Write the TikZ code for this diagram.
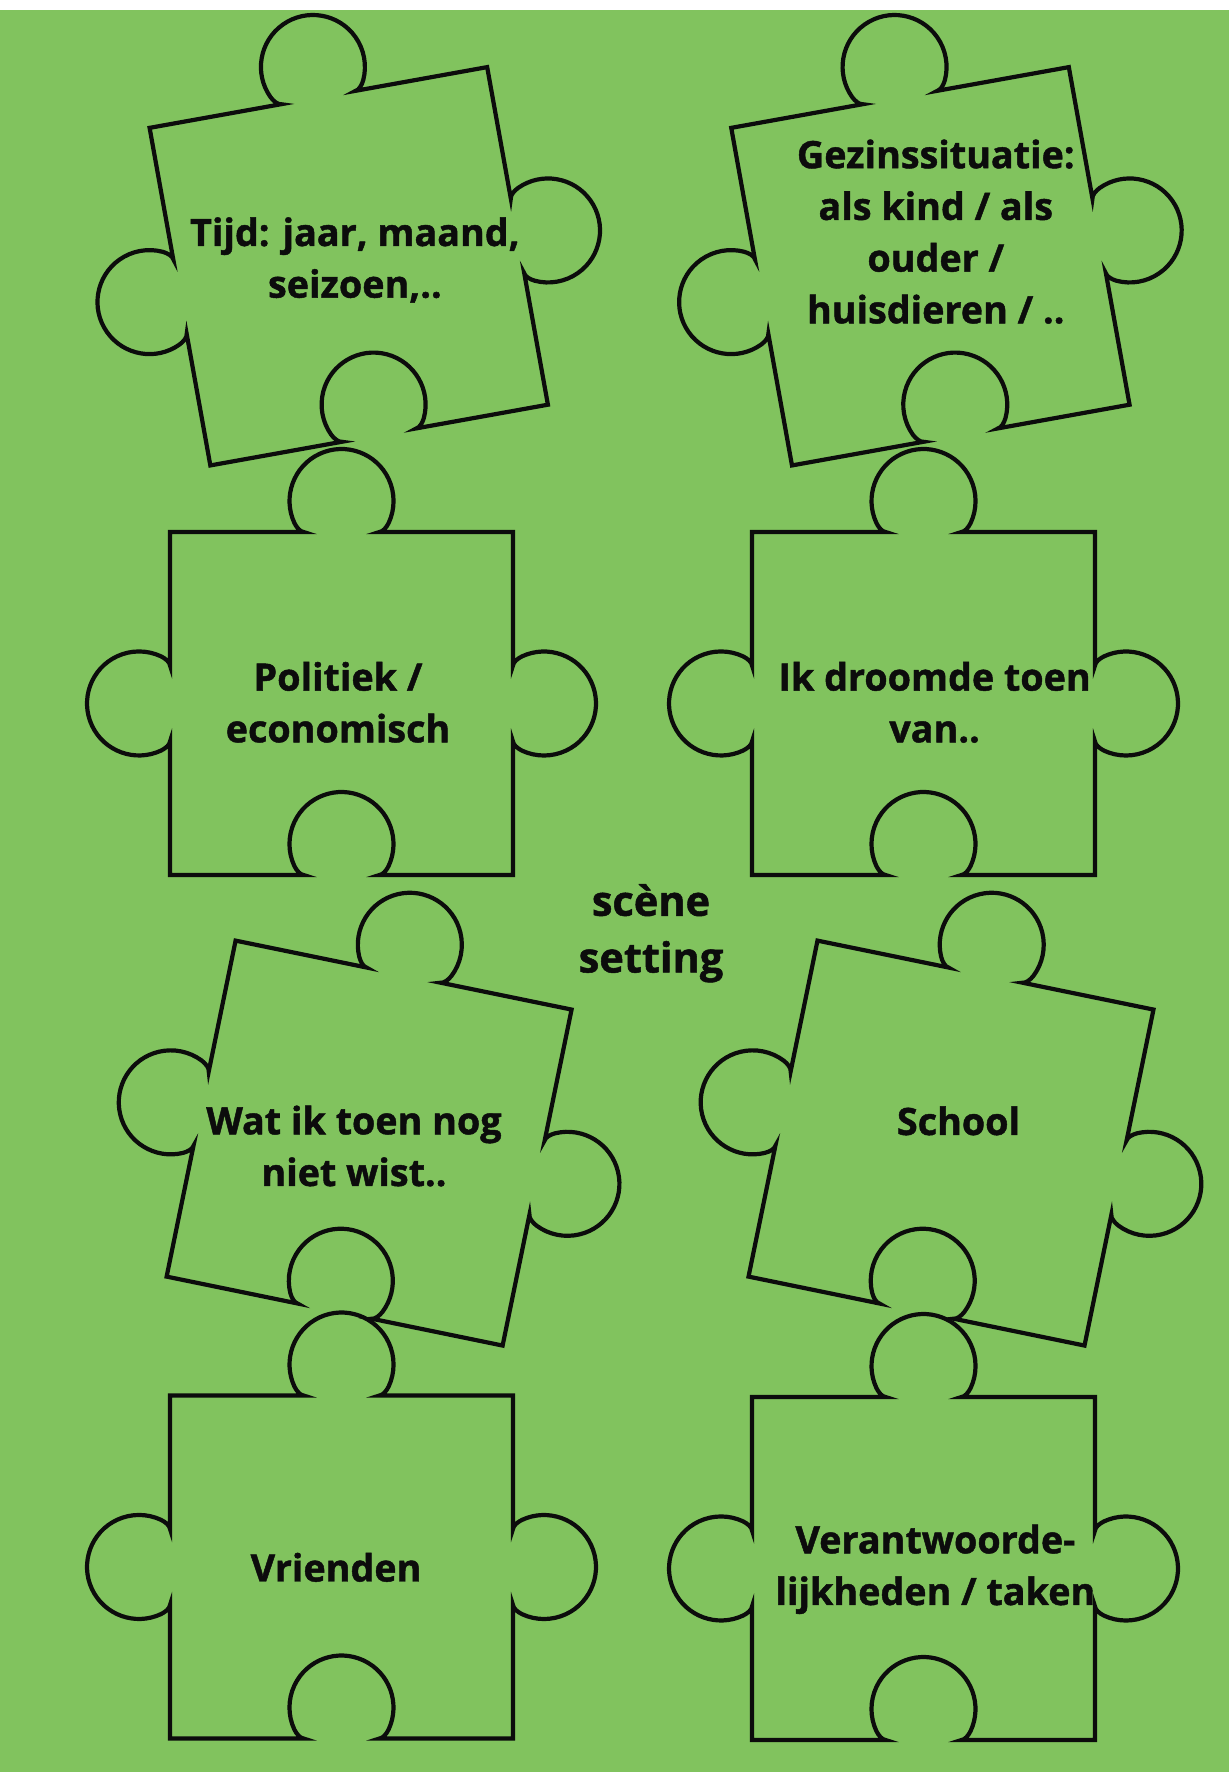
\documentclass[tikz,border=0pt]{standalone}
\usepackage{fontspec}
\setmainfont{Open Sans}[BoldFeatures={FakeBold=1.2}]
\definecolor{bggreen}{RGB}{129,195,94}
\definecolor{inkblack}{RGB}{12,12,12}
\def\hh{171.5}
\tikzset{
  puzzle line/.style={draw=inkblack, line width=4.2pt, line join=miter},
  piece/.pic={
    \draw[puzzle line]
      (-\hh,\hh) -- (-38,\hh) .. controls (-41,\hh) and (-45,\hh+4.5) .. (-47.1,\hh+9)
        arc[start angle=205, end angle=-25, radius=52]
        .. controls (45,\hh+4.5) and (41,\hh) .. (38,\hh) -- (\hh,\hh)
      -- (\hh,38) .. controls (\hh,41) and (\hh+4.5,45) .. (\hh+9,47.1)
        arc[start angle=115, end angle=-115, radius=52]
        .. controls (\hh+4.5,-45) and (\hh,-41) .. (\hh,-38) -- (\hh,-\hh)
      -- (38,-\hh) .. controls (41,-\hh) and (45,-\hh+4.5) .. (47.1,-\hh+9)
        arc[start angle=-25, end angle=205, radius=52]
        .. controls (-45,-\hh+4.5) and (-41,-\hh) .. (-38,-\hh) -- (-\hh,-\hh)
      -- (-\hh,-38) .. controls (-\hh,-41) and (-\hh-4.5,-45) .. (-\hh-9,-47.1)
        arc[start angle=295, end angle=65, radius=52]
        .. controls (-\hh-4.5,45) and (-\hh,41) .. (-\hh,38) -- cycle;
  },
  label text/.style={anchor=base, align=center, inner sep=0pt, text=inkblack,
    font=\bfseries\fontsize{37.7pt}{51.7pt}\selectfont},
  title text/.style={anchor=base, align=center, inner sep=0pt, text=inkblack,
    font=\bfseries\fontsize{41.5pt}{56.7pt}\selectfont}
}
\begin{document}
\begin{tikzpicture}[x=1pt, y=1pt]
  \useasboundingbox (0,0) rectangle (1229,1772);
  \fill[white] (0,0) rectangle (1229,1772);
  \fill[bggreen] (0,0) rectangle (1229,1762);

  % pieces
  \pic[rotate=10.2]  at (348.75,1505.7) {piece};
  \pic[rotate=10.2]  at (930.4,1505.7)  {piece};
  \pic                at (341.5,1068.5)  {piece};
  \pic                at (923.5,1068.5)  {piece};
  \pic[rotate=-11.6] at (369.1,628.9)   {piece};
  \pic[rotate=-11.6] at (951,628.9)     {piece};
  \pic                at (341.5,205)     {piece};
  \pic                at (923.5,203.5)   {piece};

  % texts (anchor = baseline of the last line)
  \node[label text] (t1) at (354.9,1474.3) {Tijd: jaar, maand,\\seizoen,..};
  \node[label text] (t2) at (935.8,1448.7) {Gezinssituatie:\\als kind / als\\ouder /\\huisdieren / ..};
  \node[label text] (t3) at (338,1029.7) {Politiek /\\economisch};
  \node[label text] (t4) at (934.6,1029.7) {Ik droomde toen\\van..};
  \node[title text] (t0) at (651,799.5) {scène\\setting};
  \node[label text] (t5) at (354,586) {Wat ik toen nog\\niet wist..};
  \node[label text] (t6) at (958.5,637) {School};
  \node[label text] (t7) at (336,190.5) {Vrienden};
  \node[label text] (t8) at (935.4,167) {Verantwoorde-\\lijkheden / taken};
\end{tikzpicture}
\end{document}
